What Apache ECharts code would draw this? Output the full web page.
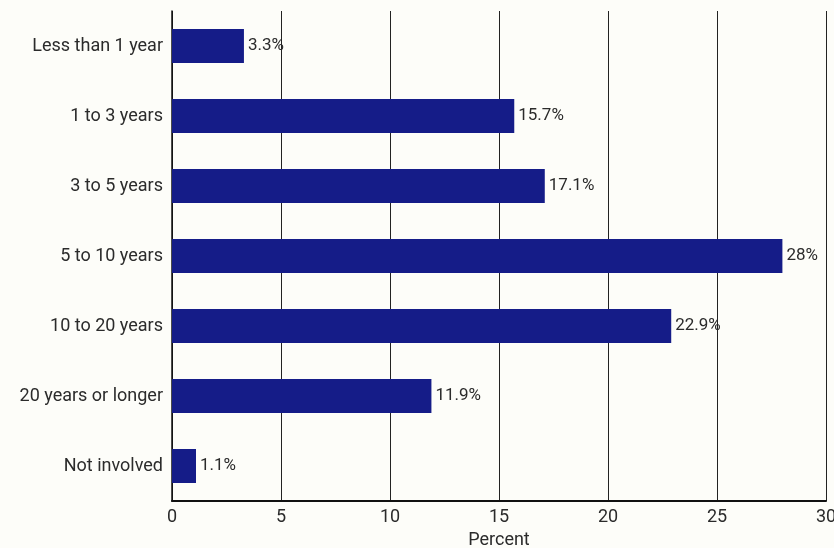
<!DOCTYPE html>
<html><head><meta charset="utf-8">
<script src="https://cdn.jsdelivr.net/npm/echarts@6/dist/echarts.min.js"></script>
<style>html,body{margin:0;padding:0;background:#fdfdf9;}#c{width:834px;height:548px;}</style>
</head><body><div id="c"></div>
<script>
var categories = ["Less than 1 year","1 to 3 years","3 to 5 years","5 to 10 years","10 to 20 years","20 years or longer","Not involved"];
var values = [3.3, 15.7, 17.1, 28, 22.9, 11.9, 1.1];
var valueLabels = ["3.3%","15.7%","17.1%","28%","22.9%","11.9%","1.1%"];
var xTicks = [0,5,10,15,20,25,30];
var FONT = "Roboto, sans-serif";
var TXT = '#2b2b2b';
var chart = echarts.init(document.getElementById('c'));
chart.setOption({
  backgroundColor: '#fdfdf9',
  animation: false,
  grid: {left: 172, right: 8, top: 11, bottom: 47, containLabel: false, outerBoundsMode: 'none'},
  xAxis: {
    type: 'value', min: 0, max: 30, interval: 5,
    name: 'Percent', nameLocation: 'middle', nameGap: 30,
    nameTextStyle: {fontFamily: FONT, fontSize: 18, color: TXT},
    axisLine: {show: true, lineStyle: {color: '#111', width: 2}},
    axisTick: {show: false},
    axisLabel: {fontFamily: FONT, fontSize: 18, color: TXT, margin: 7,
      formatter: function(v){ return xTicks.indexOf(v) >= 0 ? String(v) : ''; }},
    splitLine: {show: true, lineStyle: {color: '#222', width: 1}}
  },
  yAxis: {
    type: 'category', data: categories, inverse: true,
    axisLine: {show: true, lineStyle: {color: '#111', width: 1.5}},
    axisTick: {show: false},
    axisLabel: {fontFamily: FONT, fontSize: 18, color: TXT, margin: 9}
  },
  series: [{
    type: 'bar', data: values, barWidth: 34,
    itemStyle: {color: '#151c88'},
    label: {show: true, position: 'right', distance: 4, fontFamily: FONT, fontSize: 17, color: TXT,
      formatter: function(p){ return valueLabels[p.dataIndex]; }}
  }]
});
</script></body></html>
